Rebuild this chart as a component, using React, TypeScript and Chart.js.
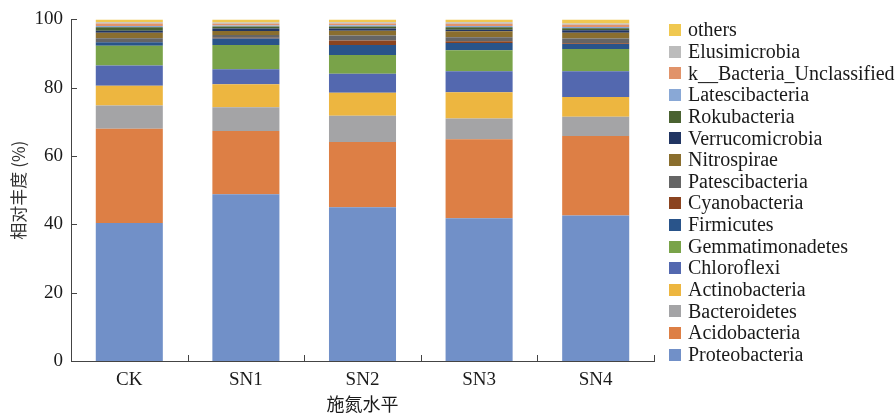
import { useEffect, useRef } from 'react';
import { Chart, registerables } from 'chart.js';

Chart.register(...registerables);

// Treatments along the x axis
const categories = ['CK', 'SN1', 'SN2', 'SN3', 'SN4'];
const yTickValues = [0, 20, 40, 60, 80, 100];

// Relative abundance (%) of each phylum per treatment, bottom of the stack first
const proteobacteria = [40.4, 48.8, 45.0, 41.8, 42.6];
const acidobacteria = [27.6, 18.5, 19.1, 23.1, 23.3];
const bacteroidetes = [6.8, 7.0, 7.7, 6.1, 5.6];
const actinobacteria = [5.8, 6.7, 6.7, 7.7, 5.8];
const chloroflexi = [5.9, 4.4, 5.6, 6.1, 7.5];
const gemmatimonadetes = [5.8, 7.1, 5.5, 6.2, 6.5];
const firmicutes = [1.0, 1.9, 2.9, 2.1, 1.5];
const cyanobacteria = [0.1, 0.2, 1.3, 0.5, 0.2];
const patescibacteria = [1.1, 0.8, 1.5, 1.2, 1.4];
const nitrospirae = [1.6, 1.2, 1.4, 1.7, 1.7];
const verrucomicrobia = [0.6, 0.7, 0.6, 0.5, 0.7];
const rokubacteria = [1.0, 0.6, 0.6, 0.7, 0.6];
const latescibacteria = [0.4, 0.3, 0.4, 0.4, 0.4];
const bacteriaUnclassified = [0.7, 0.5, 0.5, 0.6, 0.6];
const elusimicrobia = [0.4, 0.4, 0.4, 0.5, 0.4];
const others = [0.8, 0.9, 0.8, 0.8, 1.2];

const phylumNames = [
  'Proteobacteria', 'Acidobacteria', 'Bacteroidetes', 'Actinobacteria', 'Chloroflexi',
  'Gemmatimonadetes', 'Firmicutes', 'Cyanobacteria', 'Patescibacteria', 'Nitrospirae',
  'Verrucomicrobia', 'Rokubacteria', 'Latescibacteria', 'k__Bacteria_Unclassified',
  'Elusimicrobia', 'others',
];
const phylumValues = [
  proteobacteria, acidobacteria, bacteroidetes, actinobacteria, chloroflexi,
  gemmatimonadetes, firmicutes, cyanobacteria, patescibacteria, nitrospirae,
  verrucomicrobia, rokubacteria, latescibacteria, bacteriaUnclassified,
  elusimicrobia, others,
];
const phylumColors = [
  '#7190c8', '#dd7f45', '#a4a4a6', '#edb640', '#5368af',
  '#79a349', '#29548a', '#8b4420', '#656565', '#8a6e2e',
  '#213562', '#4a6231', '#89a8d6', '#e1936a', '#bcbcbc', '#f0c850',
];

const serif = "'Liberation Serif', 'Times New Roman', serif";
const cjk = "'Noto Sans CJK SC', sans-serif";
const axisColor = '#444444';
const textColor = '#1a1a1a';

// Short tick marks pointing into the plot area
const innerTicks = {
  id: 'innerTicks',
  afterDraw(chart: any) {
    const { ctx, chartArea, scales } = chart;
    const x = scales.x;
    const y = scales.y;
    ctx.save();
    ctx.strokeStyle = axisColor;
    ctx.lineWidth = 1;
    ctx.beginPath();
    y.ticks.forEach((_t: any, i: number) => {
      const py = Math.round(y.getPixelForTick(i)) + 0.5;
      ctx.moveTo(chartArea.left, py);
      ctx.lineTo(chartArea.left + 6, py);
    });
    for (let i = 0; i <= categories.length; i++) {
      const px = Math.round(x.getPixelForValue(i - 0.5)) + 0.5;
      ctx.moveTo(px, chartArea.bottom);
      ctx.lineTo(px, chartArea.bottom - 6);
    }
    ctx.stroke();
    ctx.restore();
  },
};

// Legend column on the right, top entry = top of the stack
const sideLegend = {
  id: 'sideLegend',
  afterDraw(chart: any) {
    const { ctx, chartArea } = chart;
    const sets = chart.data.datasets;
    const n = sets.length;
    const boxX = chartArea.right + 15;
    const firstY = 30;
    const step = 21.65;
    ctx.save();
    ctx.font = `20px ${serif}`;
    ctx.textBaseline = 'middle';
    ctx.textAlign = 'left';
    for (let k = 0; k < n; k++) {
      const ds = sets[n - 1 - k];
      const cy = firstY + k * step;
      ctx.fillStyle = ds.backgroundColor;
      ctx.fillRect(boxX, Math.round(cy - 6), 12, 12);
      ctx.fillStyle = textColor;
      ctx.fillText(ds.label, boxX + 19, cy + 1);
    }
    ctx.restore();
  },
};

export default function App() {
  const ref = useRef<HTMLCanvasElement>(null);

  useEffect(() => {
    if (!ref.current) return;
    const chart = new Chart(ref.current, {
      type: 'bar',
      data: {
        labels: categories,
        datasets: phylumNames.map((name, i) => ({
          label: name,
          data: phylumValues[i],
          backgroundColor: phylumColors[i],
          borderWidth: 0,
          barPercentage: 0.575,
          categoryPercentage: 1,
        })),
      },
      options: {
        animation: false,
        responsive: false,
        layout: { padding: { top: 16, right: 241, bottom: 0, left: 0 } },
        plugins: {
          legend: { display: false },
          tooltip: { enabled: false },
        },
        scales: {
          x: {
            stacked: true,
            grid: { display: false, drawTicks: false },
            border: { display: true, color: axisColor, width: 1 },
            ticks: { color: textColor, font: { family: serif, size: 19 }, padding: 8 },
            title: {
              display: true,
              text: '施氮水平',
              color: textColor,
              font: { family: cjk, size: 18 },
              padding: { top: 0, bottom: 2 },
            },
            afterFit: (s: any) => {
              s.height = 56;
            },
          },
          y: {
            stacked: true,
            min: 0,
            max: 100,
            grid: { display: false, drawTicks: false },
            border: { display: true, color: axisColor, width: 1 },
            ticks: {
              stepSize: 20,
              color: textColor,
              font: { family: serif, size: 19 },
              padding: 8,
              callback: (v: any) => (yTickValues.includes(v) ? String(v) : ''),
            },
            title: {
              display: true,
              text: '相对丰度 (%)',
              color: '#333333',
              font: { family: cjk, size: 17 },
              padding: { top: 8, bottom: 0 },
            },
            afterFit: (s: any) => {
              s.width = 71;
            },
          },
        },
      },
      plugins: [innerTicks, sideLegend],
    });
    return () => chart.destroy();
  }, []);

  return (
    <div style={{ position: 'absolute', left: 0, top: 0, width: 895, height: 417 }}>
      <canvas ref={ref} width={895} height={417} />
    </div>
  );
}
